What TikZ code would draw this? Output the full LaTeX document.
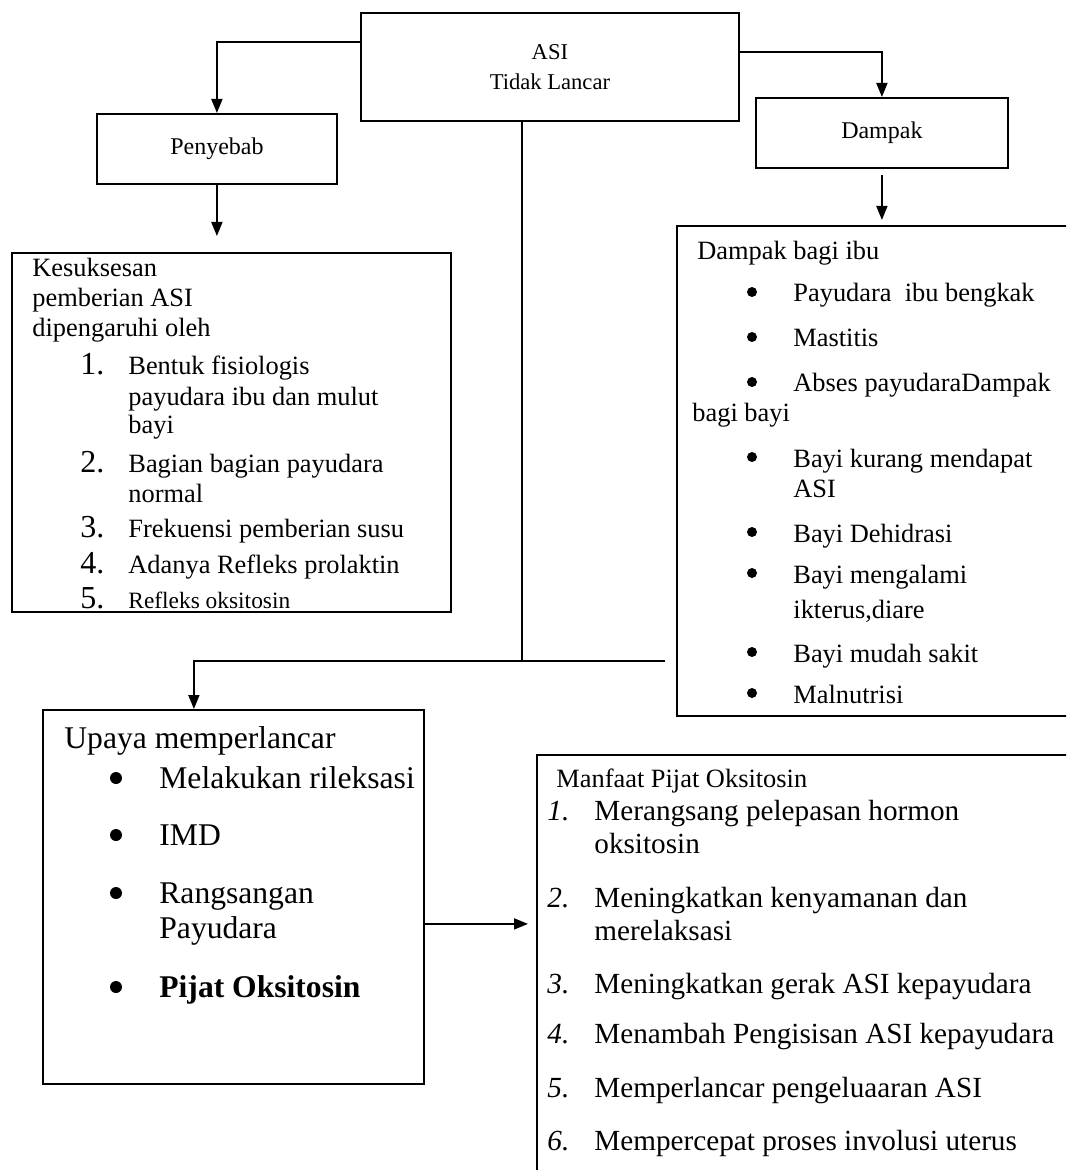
\documentclass[tikz,border=0pt]{standalone}
\usepackage{fontspec}
\setmainfont{Liberation Serif}
\usetikzlibrary{arrows.meta}

\newcommand\sizeTop{\fontsize{11.3}{13}\selectfont}
\newcommand\sizeHead{\fontsize{12}{14}\selectfont}
\newcommand\sizeList{\fontsize{13.2}{15}\selectfont}
\newcommand\sizeNum{\fontsize{16}{18}\selectfont}
\newcommand\sizeBig{\fontsize{15.8}{18}\selectfont}
\newcommand\sizeMan{\fontsize{14.6}{17}\selectfont}
\newcommand\sizeSmall{\fontsize{11.7}{13}\selectfont}

\tikzset{
  box/.style={draw, line width=0.9pt, anchor=north west, inner sep=0pt},
  arr/.style={line width=0.9pt, -{Triangle[length=7pt,width=5.5pt]}},
  ln/.style={anchor=base west, inner sep=0pt},
  dot/.style={circle, fill, inner sep=0pt, minimum size=5pt},
}

\begin{document}
\begin{tikzpicture}[x=0.5pt,y=-0.5pt]
\useasboundingbox (0,0) rectangle (1066,1170);
\clip (0,0) rectangle (1066,1170);

% boxes
\node[box, minimum width=189pt, minimum height=54pt, align=center, font=\sizeTop] (asi) at (360,12) {ASI\\[2pt]Tidak Lancar};
\node[box, minimum width=120pt, minimum height=35pt, font=\sizeHead] (penyebab) at (96,113) {Penyebab};
\node[box, minimum width=126pt, minimum height=35pt, font=\sizeHead] (dampak) at (755,97) {Dampak};
\node[box, minimum width=219.5pt, minimum height=179.5pt] (kes) at (11,252) {};
\node[box, minimum width=220pt, minimum height=245pt] (dbox) at (676,225) {};
\node[box, minimum width=190.5pt, minimum height=187pt] (upaya) at (42,709) {};
\node[box, minimum width=300pt, minimum height=250pt] (manfaat) at (536,754) {};

% connectors
\coordinate (hub) at (522,661);
\draw[arr] ([yshift=-15pt]asi.north west) -| (penyebab.north);
\draw[arr] ([yshift=-20pt]asi.north east) -| (dampak.north);
\draw[arr] (penyebab.south) -- ([yshift=8pt]kes.north -| penyebab.south);
\draw[arr] ([yshift=-3pt]dampak.south) -- ([yshift=2.5pt]dbox.north -| dampak.south);
\draw[line width=0.9pt] (asi.south -| hub) -- (hub);
\draw[arr] ([xshift=-5.5pt]dbox.west |- hub) -| ([xshift=-19.75pt]upaya.north);
\path ([yshift=-13.5pt]upaya.east) coordinate (ua);
\draw[arr] (ua) -- ([xshift=-4pt]manfaat.west |- ua);

% penyebab list
\foreach \y/\t [count=\n] in {277/Kesuksesan, 307/pemberian ASI, 337/dipengaruhi oleh}
  \node[ln, font=\sizeList] (kh\n) at (32,\y) {\t};
\foreach \y [count=\n] in {375,472,537,573,608}
  \node[ln, font=\sizeNum] (kn\n) at (80,\y) {\n.};
\foreach \y/\t [count=\n] in {375/Bentuk fisiologis, 406/payudara ibu dan mulut, 433/bayi,
    472/Bagian bagian payudara, 502/normal, 537/Frekuensi pemberian susu,
    573/Adanya Refleks prolaktin}
  \node[ln, font=\sizeList] (k\n) at (128,\y) {\t};
\node[ln, font=\sizeSmall] (k8) at (128,608) {Refleks oksitosin};

% dampak list
\node[ln, font=\sizeList] (dh1) at (697,260) {Dampak bagi ibu};
\node[ln, font=\sizeList] (dh2) at (692,422) {bagi bayi};
\foreach \y [count=\n] in {302,347,392,467,542,583,662,703}
  \node[dot] (db\n) at (752,\y-10) {};
\foreach \y/\t [count=\n] in {302/Payudara\ \ ibu bengkak, 347/Mastitis, 392/Abses payudaraDampak,
    467/Bayi kurang mendapat, 497/ASI, 542/Bayi Dehidrasi, 583/Bayi mengalami,
    618/{ikterus,diare}, 662/Bayi mudah sakit, 703/Malnutrisi}
  \node[ln, font=\sizeList] (d\n) at (793,\y) {\t};

% upaya list
\node[ln, font=\sizeBig] (uh) at (64,748) {Upaya memperlancar};
\foreach \y [count=\n] in {788,845,903,997}
  \node[dot, minimum size=6pt] (ub\n) at (116,\y-10) {};
\foreach \y/\t [count=\n] in {788/Melakukan rileksasi, 845/IMD, 903/Rangsangan, 938/Payudara}
  \node[ln, font=\sizeBig] (u\n) at (159,\y) {\t};
\node[ln, font=\sizeBig\bfseries] (u5) at (159,997) {Pijat Oksitosin};

% manfaat list
\node[ln, font=\sizeList] (mh) at (556,787) {Manfaat Pijat Oksitosin};
\foreach \y [count=\n] in {820,907,993,1043,1097,1150}
  \node[ln, font=\sizeMan\itshape] (mn\n) at (547,\y) {\n.};
\foreach \y/\t [count=\n] in {820/Merangsang pelepasan hormon, 853/oksitosin,
    907/Meningkatkan kenyamanan dan, 940/merelaksasi,
    993/Meningkatkan gerak ASI kepayudara, 1043/Menambah Pengisisan ASI kepayudara,
    1097/Memperlancar pengeluaaran ASI, 1150/Mempercepat proses involusi uterus}
  \node[ln, font=\sizeMan] (m\n) at (594,\y) {\t};
\end{tikzpicture}
\end{document}
